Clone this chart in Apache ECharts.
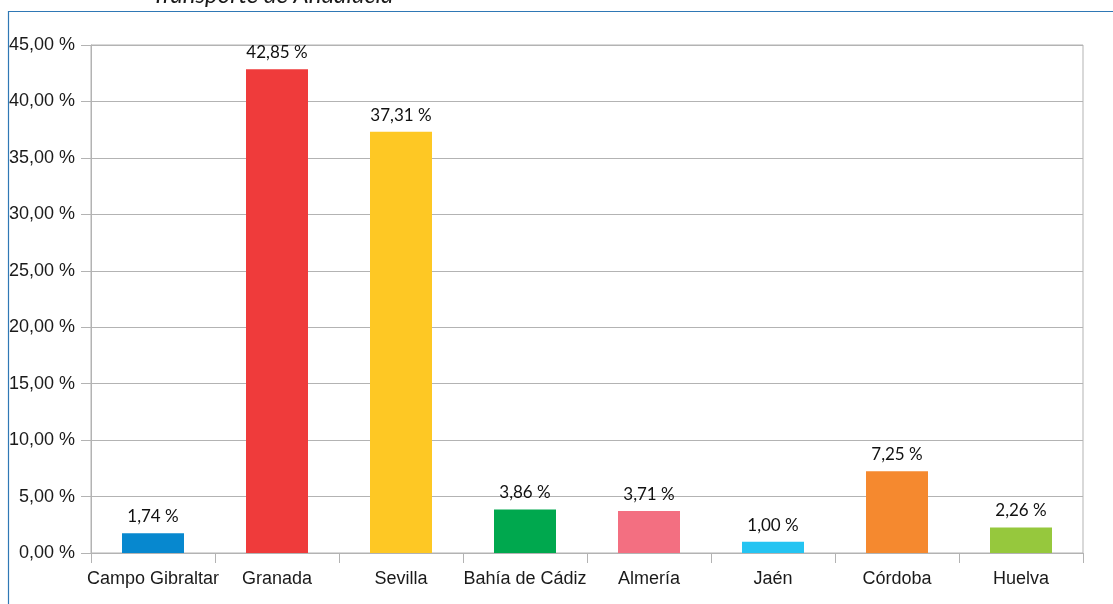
<!DOCTYPE html>
<html>
<head>
<meta charset="utf-8">
<script src="https://cdn.jsdelivr.net/npm/echarts@6/dist/echarts.min.js"></script>
<style>html,body{margin:0;padding:0;background:#fff;}#c{width:1113px;height:604px;}</style>
</head>
<body>
<div id="c"></div>
<script>
var categories = ['Campo Gibraltar', 'Granada', 'Sevilla', 'Bahía de Cádiz', 'Almería', 'Jaén', 'Córdoba', 'Huelva'];
var values = [1.74, 42.85, 37.31, 3.86, 3.71, 1.00, 7.25, 2.26];
var barColors = ['#0788cf', '#ef3b3b', '#fec824', '#00a84e', '#f36f81', '#24c4f2', '#f5892f', '#96c83d'];
var titleText = 'Transporte de Andalucía';

function pct(v) { return v.toFixed(2).replace('.', ',') + ' %'; }

var chart = echarts.init(document.getElementById('c'));
chart.setOption({
  animation: false,
  backgroundColor: '#ffffff',
  graphic: [
    { type: 'rect', shape: { x: 8.5, y: 11.5, width: 1200, height: 700 }, style: { fill: 'none', stroke: '#2f78b5', lineWidth: 1.2 }, z: 100 },
    { type: 'text', left: 152, top: -17, style: { text: titleText, font: 'italic 24px Lato', fill: '#1a1a1a' }, z: 100 }
  ],
  grid: { left: 91, right: 30, top: 45, bottom: 51, show: true, borderColor: '#b3b3b3', borderWidth: 1 },
  xAxis: {
    type: 'category',
    data: categories,
    axisLine: { lineStyle: { color: '#b3b3b3' } },
    axisTick: { show: true, interval: 0, length: 10, lineStyle: { color: '#b3b3b3' } },
    axisLabel: { interval: 0, color: '#1a1a1a', fontFamily: 'Liberation Sans', fontSize: 18, margin: 17 }
  },
  yAxis: {
    type: 'value', min: 0, max: 45, interval: 5,
    axisLine: { show: true, lineStyle: { color: '#b3b3b3' } },
    axisTick: { show: true, length: 10, lineStyle: { color: '#b3b3b3' } },
    splitLine: { lineStyle: { color: '#b3b3b3' } },
    axisLabel: { color: '#1a1a1a', fontFamily: 'Liberation Sans', fontSize: 18, margin: 16, formatter: function (v) { return pct(v); } }
  },
  series: [{
    type: 'bar',
    data: values.map(function (v, i) { return { value: v, itemStyle: { color: barColors[i] } }; }),
    barWidth: '50%',
    label: { show: true, position: 'top', distance: 8, color: '#111111', fontFamily: 'Lato', fontSize: 17, formatter: function (p) { return pct(p.value); } }
  }]
});
</script>
</body>
</html>
